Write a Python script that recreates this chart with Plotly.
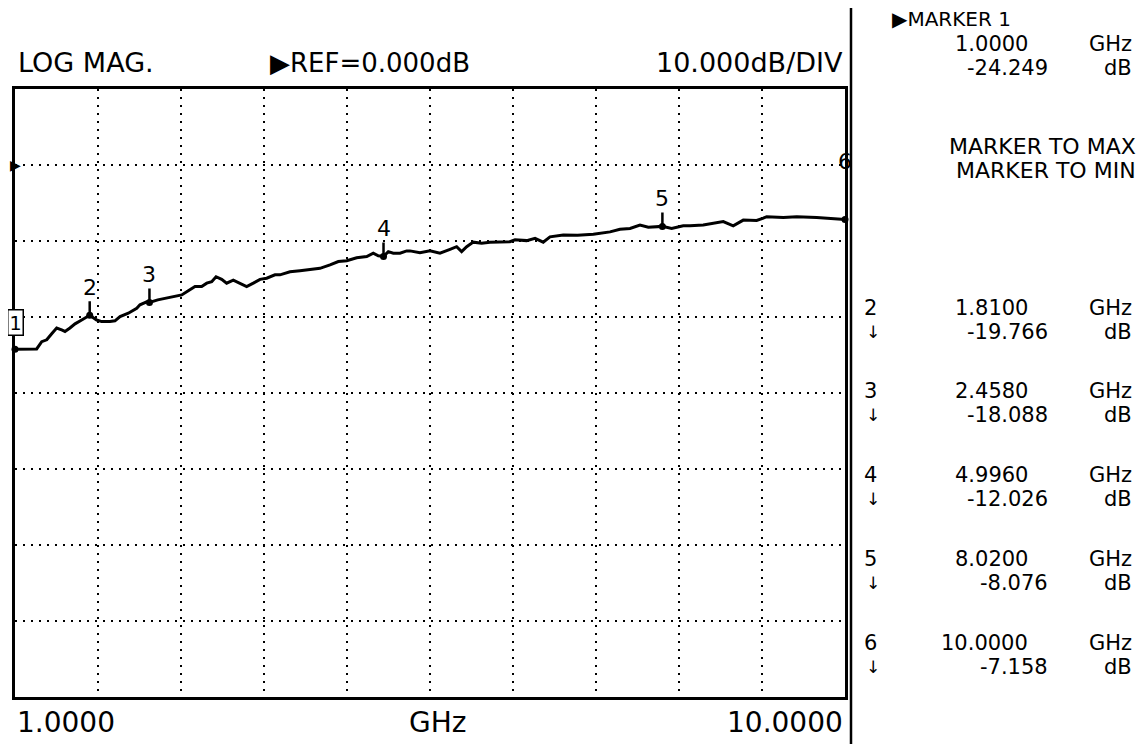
import plotly.graph_objects as go

# ---- data ----
freq_ghz = [1.000, 1.235, 1.290, 1.344, 1.398, 1.452, 1.506, 1.542, 1.596, 1.651,
            1.723, 1.810, 1.886, 1.940, 2.030, 2.084, 2.139, 2.229, 2.320, 2.355,
            2.428, 2.458, 2.548, 2.699, 2.808, 2.879, 2.952, 3.024, 3.079, 3.133,
            3.180, 3.241, 3.295, 3.367, 3.440, 3.512, 3.584, 3.657, 3.729, 3.819,
            3.873, 3.982, 4.090, 4.199, 4.307, 4.416, 4.506, 4.597, 4.705, 4.814,
            4.885, 4.939, 4.996, 5.048, 5.102, 5.175, 5.247, 5.283, 5.391, 5.500,
            5.608, 5.717, 5.789, 5.843, 5.898, 5.969, 6.060, 6.150, 6.259, 6.367,
            6.422, 6.548, 6.639, 6.728, 6.801, 6.945, 7.100, 7.271, 7.452, 7.560,
            7.669, 7.777, 7.867, 8.020, 8.120, 8.246, 8.319, 8.463, 8.680, 8.788,
            8.897, 9.042, 9.114, 9.151, 9.331, 9.476, 9.693, 9.837, 10.000]
mag_db = [-24.249, -24.20, -23.25, -23.00, -22.20, -21.45, -21.70, -21.90, -21.45, -20.90,
          -20.40, -19.766, -20.40, -20.60, -20.60, -20.50, -19.95, -19.50, -18.85, -18.40,
          -18.00, -18.088, -17.75, -17.40, -17.10, -16.55, -16.00, -16.00, -15.55, -15.35,
          -14.70, -15.05, -15.55, -15.15, -15.55, -16.00, -15.55, -15.05, -14.90, -14.45,
          -14.45, -14.05, -13.90, -13.70, -13.60, -13.15, -12.70, -12.60, -12.20, -12.05,
          -11.60, -11.95, -12.026, -11.40, -11.60, -11.60, -11.30, -11.30, -11.55, -11.30,
          -11.60, -11.10, -10.75, -11.40, -10.75, -10.15, -10.30, -10.15, -10.15, -10.10,
          -9.85, -9.95, -9.65, -10.15, -9.45, -9.20, -9.25, -9.10, -8.80, -8.45,
          -8.35, -7.90, -8.20, -8.076, -8.35, -8.00, -8.00, -7.90, -7.45, -8.00,
          -7.25, -7.30, -7.00, -6.80, -6.90, -6.80, -6.90, -7.00, -7.158]

marker_ids = ["1", "2", "3", "4", "5", "6"]
marker_freq = [1.0000, 1.8100, 2.4580, 4.9960, 8.0200, 10.0000]
marker_db = [-24.249, -19.766, -18.088, -12.026, -8.076, -7.158]
marker_freq_txt = ["1.0000", "1.8100", "2.4580", "4.9960", "8.0200", "10.0000"]
marker_db_txt = ["-24.249", "-19.766", "-18.088", "-12.026", "-8.076", "-7.158"]

x_start_label = "1.0000"
x_stop_label = "10.0000"
x_unit = "GHz"
header_left = "LOG MAG."
header_mid = "\u25b6REF=0.000dB"
header_right = "10.000dB/DIV"

# ---- layout geometry (pixels of the reference page) ----
OFF = 8                      # default page body margin
W, H = 1148 - OFF, 744 - OFF
L, R, T, B = 15, 845, 89, 697
FONT = "DejaVu Sans"


def px(x):
    return (x - L) / (R - L)


def py(y):
    return (B - y) / (B - T)


fig = go.Figure()
fig.add_trace(go.Scatter(x=freq_ghz, y=mag_db, mode="lines",
                         line=dict(color="black", width=3),
                         hoverinfo="skip", showlegend=False))
fig.add_trace(go.Scatter(x=marker_freq, y=marker_db, mode="markers",
                         marker=dict(color="black", size=7, symbol="circle"),
                         hoverinfo="skip", showlegend=False, cliponaxis=False))

ann = []
for mid, mf, md in zip(marker_ids, marker_freq, marker_db):
    if mid == "1":
        ann.append(dict(x=mf, y=md, xref="x", yref="y", text=mid, showarrow=False,
                        yshift=27, font=dict(family=FONT, size=19, color="black"),
                        bordercolor="black", borderwidth=1.5, borderpad=1, bgcolor="white"))
    elif mid == "6":
        ann.append(dict(x=mf, y=md, xref="x", yref="y", text=mid, showarrow=False,
                        yshift=58, font=dict(family=FONT, size=22, color="black")))
    else:
        ann.append(dict(x=mf, y=md, xref="x", yref="y", text=mid, showarrow=True,
                        arrowhead=0, arrowwidth=2.5, arrowcolor="black", ax=0, ay=-28,
                        standoff=0, font=dict(family=FONT, size=22, color="black")))


def txt(text, x, y, anchor="left", size=21):
    ann.append(dict(x=px(x), y=py(y), xref="paper", yref="paper", text=text,
                    showarrow=False, xanchor=anchor, yanchor="middle",
                    font=dict(family=FONT, size=size, color="black")))


# header
txt(header_left, 16, 63, size=27)
txt(header_mid, 268, 63, size=26)
txt(header_right, 845, 63, "right", size=27)
# bottom
txt(x_start_label, 15, 722, size=28)
txt(x_unit, 437, 722, "center", size=28)
txt(x_stop_label, 845, 722, "right", size=28)
# reference arrow at left
txt("\u25b6", 8, 165, "left", 14)

# right panel
txt("\u25b6MARKER 1", 890, 19, size=20)
txt(marker_freq_txt[0], 1030, 44, "right")
txt("GHz", 1134, 44, "right")
txt(marker_db_txt[0], 1050, 68, "right")
txt("dB", 1134, 68, "right")
txt("MARKER TO MAX", 1138, 146, "right", size=22)
txt("MARKER TO MIN", 1138, 171, "right", size=22)
rows_y = [308, 391, 475, 559, 643]
for k, yy in enumerate(rows_y):
    i = k + 1
    txt(marker_ids[i], 862, yy)
    txt("\u2193", 864, yy + 24, "left", 17)
    txt(marker_freq_txt[i], 1030, yy, "right")
    txt("GHz", 1134, yy, "right")
    txt(marker_db_txt[i], 1050, yy + 24, "right")
    txt("dB", 1134, yy + 24, "right")

shapes = [dict(type="line", xref="paper", yref="paper",
               x0=px(851), x1=px(851), y0=py(744), y1=py(0),
               line=dict(color="black", width=2.5))]

axis_common = dict(showline=True, mirror=True, linecolor="black", linewidth=3,
                   showgrid=True, gridcolor="black", gridwidth=2, griddash="2px,6px",
                   zeroline=False, showticklabels=False, ticks="", fixedrange=True)

fig.update_layout(
    width=W, height=H,
    margin=dict(l=L - OFF, r=1148 - R, t=T - OFF, b=744 - B, pad=0),
    paper_bgcolor="white", plot_bgcolor="white",
    xaxis=dict(range=[1, 10], tick0=1, dtick=0.9, **axis_common),
    yaxis=dict(range=[-70, 10], tick0=-70, dtick=10, **axis_common),
    annotations=ann, shapes=shapes, showlegend=False,
)

fig.write_html("out.html")
